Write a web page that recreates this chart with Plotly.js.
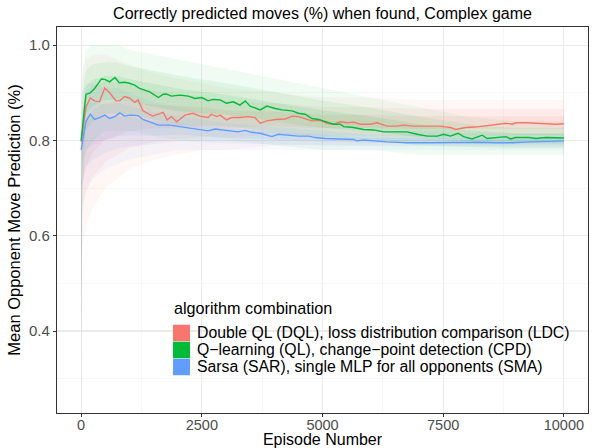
<!DOCTYPE html>
<html>
<head>
<meta charset="utf-8">
<script src="https://cdn.plot.ly/plotly-3.0.1.min.js"></script>
<style>html,body{margin:0;padding:0;background:#fff}#chart{width:596px;height:448px}</style>
</head>
<body>
<div id="chart"></div>
<script>
// ---- data ----
const legendTitle = "algorithm combination";
const seriesNames = [
  "Double QL (DQL), loss distribution comparison (LDC)",
  "Q\u2212learning (QL), change\u2212point detection (CPD)",
  "Sarsa (SAR), single MLP for all opponents (SMA)"
];
const seriesColors = ["#F8766D", "#00BA38", "#619CFF"];

// mean line: Double QL / LDC
const dqlEpisode = [0,100,190,280,380,490,590,720,800,900,1000,1110,1180,1280,1480,1700,1780,1870,1980,2150,2320,2460,2630,2700,2810,2880,3010,3120,3290,3460,3600,3710,3850,4020,4230,4370,4500,4640,4780,4950,5090,5230,5370,5510,5650,5780,6000,6130,6340,6540,6680,6890,7030,7240,7440,7650,7760,7860,7970,8170,8380,8590,8800,8930,9000,9210,9420,9630,9830,10000];
const dqlMean = [0.797,0.870,0.889,0.883,0.881,0.910,0.900,0.883,0.883,0.892,0.889,0.880,0.885,0.862,0.851,0.859,0.843,0.850,0.839,0.853,0.857,0.851,0.848,0.855,0.850,0.853,0.843,0.848,0.848,0.850,0.848,0.836,0.841,0.844,0.845,0.851,0.850,0.845,0.841,0.842,0.836,0.834,0.839,0.837,0.838,0.834,0.834,0.837,0.830,0.830,0.832,0.830,0.830,0.829,0.830,0.827,0.823,0.825,0.827,0.828,0.831,0.834,0.836,0.834,0.837,0.837,0.836,0.836,0.834,0.835];

// mean line: Q-learning / CPD
const qlEpisode = [0,100,180,280,420,490,590,700,790,900,1000,1110,1210,1420,1600,1700,1770,1870,2050,2220,2360,2500,2630,2740,2880,3010,3150,3290,3400,3500,3710,3850,4020,4160,4370,4500,4640,4780,4920,5060,5230,5370,5440,5640,5850,6060,6270,6540,6750,6960,7170,7380,7510,7650,7810,7920,8100,8200,8310,8410,8590,8800,8900,9000,9280,9420,9630,9830,10000];
const qlMean = [0.800,0.897,0.899,0.909,0.929,0.928,0.923,0.932,0.921,0.922,0.920,0.916,0.909,0.902,0.890,0.897,0.897,0.893,0.895,0.893,0.888,0.890,0.883,0.886,0.885,0.878,0.881,0.874,0.883,0.872,0.864,0.872,0.867,0.864,0.862,0.857,0.855,0.846,0.844,0.839,0.834,0.834,0.829,0.827,0.823,0.822,0.818,0.818,0.818,0.813,0.809,0.809,0.813,0.809,0.815,0.808,0.803,0.807,0.811,0.804,0.806,0.808,0.803,0.806,0.806,0.804,0.806,0.806,0.805];

// mean line: Sarsa / SMA
const sarEpisode = [0,100,190,280,380,490,590,700,800,900,1010,1180,1280,1420,1600,1840,2050,2220,2360,2500,2630,2770,2910,3120,3250,3400,3530,3710,3950,4090,4300,4500,4710,4850,5060,5400,5650,5710,5850,6340,6750,7240,7650,8240,8590,8930,9280,9630,10000];
const sarMean = [0.780,0.840,0.855,0.844,0.848,0.853,0.846,0.850,0.858,0.851,0.853,0.852,0.844,0.839,0.832,0.832,0.829,0.825,0.823,0.822,0.820,0.824,0.822,0.820,0.818,0.821,0.817,0.815,0.808,0.813,0.811,0.809,0.809,0.806,0.804,0.803,0.802,0.799,0.801,0.797,0.795,0.795,0.796,0.796,0.795,0.795,0.797,0.798,0.799];

// spread (ribbon) envelope, coarse
const ribbonEpisode = [0,25,100,250,500,750,1000,1500,2000,2500,3000,4000,5000,6000,7000,8000,9000,10000];
const dqlUpper = [0.80,0.93,0.97,0.98,0.98,0.97,0.96,0.94,0.93,0.92,0.91,0.90,0.89,0.89,0.885,0.885,0.885,0.885];
const dqlLower = [0.27,0.58,0.62,0.66,0.70,0.72,0.74,0.76,0.77,0.78,0.78,0.79,0.79,0.79,0.79,0.79,0.79,0.79];
const qlUpper  = [0.80,0.95,0.99,1.00,1.00,1.00,0.99,0.98,0.97,0.96,0.95,0.93,0.91,0.89,0.87,0.85,0.84,0.84];
const qlLower  = [0.30,0.70,0.78,0.80,0.82,0.82,0.82,0.81,0.80,0.80,0.80,0.79,0.78,0.78,0.77,0.77,0.77,0.77];
const sarUpper = [0.80,0.90,0.92,0.92,0.91,0.91,0.90,0.88,0.87,0.86,0.85,0.84,0.83,0.82,0.82,0.815,0.815,0.815];
const sarLower = [0.27,0.66,0.70,0.72,0.74,0.75,0.76,0.77,0.78,0.78,0.78,0.78,0.78,0.78,0.78,0.78,0.78,0.78];

const xTicks = [0, 2500, 5000, 7500, 10000];
const xTickText = ["0", "2500", "5000", "7500", "10000"];
const yTicks = [0.4, 0.6, 0.8, 1.0];
const yTickText = ["0.4", "0.6", "0.8", "1.0"];

// ---- build traces ----
const FONT = "Liberation Sans, Arial, Helvetica, sans-serif";
function rgba(hex, a) {
  const n = parseInt(hex.slice(1), 16);
  return `rgba(${(n >> 16) & 255},${(n >> 8) & 255},${n & 255},${a})`;
}
function bandTraces(lo, hi, color) {
  const out = [];
  const fracs = [0, 0.2, 0.36];
  const alphas = [0.06, 0.08, 0.1];
  fracs.forEach((f, k) => {
    const l = lo.map((v, i) => v + f * (hi[i] - v));
    const h = hi.map((v, i) => v - f * (v - lo[i]));
    out.push({x: ribbonEpisode, y: l, type: "scatter", mode: "lines", line: {width: 0}, showlegend: false, hoverinfo: "skip"});
    out.push({x: ribbonEpisode, y: h, type: "scatter", mode: "lines", line: {width: 0}, fill: "tonexty", fillcolor: rgba(color, alphas[k]), showlegend: false, hoverinfo: "skip"});
  });
  return out;
}
const traces = [];
traces.push(...bandTraces(dqlLower, dqlUpper, seriesColors[0]));
traces.push(...bandTraces(qlLower, qlUpper, seriesColors[1]));
traces.push(...bandTraces(sarLower, sarUpper, seriesColors[2]));
const lineSets = [[dqlEpisode, dqlMean], [qlEpisode, qlMean], [sarEpisode, sarMean]];
lineSets.forEach((s, i) => {
  traces.push({x: s[0], y: s[1], type: "scatter", mode: "lines", line: {color: seriesColors[i], width: 1.4}, showlegend: false, name: seriesNames[i]});
});

// ---- legend (drawn inside the panel, ggplot style) ----
// paper units: panel is 531 px wide, 386 px tall
const legX0 = 0.2185, legX1 = 0.2505, legTextX = 0.2599;
const rowStep = 17 / 386, keyH = 16.5 / 386, firstRowCenter = 0.2073;
const shapes = [{
  type: "rect", xref: "paper", yref: "paper", x0: 0.200, x1: 0.996, y0: 0.088, y1: 0.305,
  fillcolor: "#FFFFFF", line: {width: 0}, layer: "between"
}];
const annotations = [{
  xref: "paper", yref: "paper", x: legX0 - 0.002, y: 0.272, xanchor: "left", yanchor: "middle",
  text: legendTitle, showarrow: false, font: {size: 16.2, color: "#000000", family: FONT}
}];
seriesNames.forEach((n, i) => {
  const c = firstRowCenter - i * rowStep;
  shapes.push({type: "rect", xref: "paper", yref: "paper", x0: legX0, x1: legX1, y0: c - keyH / 2, y1: c + keyH / 2,
    fillcolor: seriesColors[i], line: {width: 0}, layer: "above"});
  annotations.push({xref: "paper", yref: "paper", x: legTextX, y: c, xanchor: "left", yanchor: "middle",
    text: n, showarrow: false, font: {size: 15.8, color: "#000000", family: FONT}});
});

const layout = {
  width: 596, height: 448,
  margin: {l: 57, r: 8, t: 27, b: 35},
  paper_bgcolor: "#FFFFFF", plot_bgcolor: "#FFFFFF",
  font: {family: FONT, color: "#000000"},
  showlegend: false,
  title: {text: "Correctly predicted moves (%) when found, Complex game", font: {size: 16, color: "#000000", family: FONT},
          x: 0.5, xref: "paper", xanchor: "center", y: 0.97, yref: "container", yanchor: "middle"},
  xaxis: {
    range: [-500, 10500], tickvals: xTicks, ticktext: xTickText,
    showgrid: true, gridcolor: "#EBEBEB", gridwidth: 1.1, zeroline: false,
    minor: {dtick: 1250, tick0: 0, showgrid: true, gridcolor: "#F2F2F2", gridwidth: 0.6, ticks: ""},
    showline: true, mirror: true, linecolor: "#333333", linewidth: 1.1,
    ticks: "outside", ticklen: 3, tickcolor: "#333333", tickwidth: 1,
    ticklabelstandoff: -5,
    tickfont: {size: 14.5, color: "#4D4D4D", family: FONT},
    title: {text: "Episode Number", font: {size: 16, color: "#000000", family: FONT}, standoff: 4}
  },
  yaxis: {
    range: [0.228, 1.038], tickvals: yTicks, ticktext: yTickText,
    showgrid: true, gridcolor: "#EBEBEB", gridwidth: 1.1, zeroline: false,
    minor: {dtick: 0.1, tick0: 0, showgrid: true, gridcolor: "#F2F2F2", gridwidth: 0.6, ticks: ""},
    showline: true, mirror: true, linecolor: "#333333", linewidth: 1.1,
    ticks: "outside", ticklen: 3, tickcolor: "#333333", tickwidth: 1,
    tickfont: {size: 15, color: "#4D4D4D", family: FONT},
    title: {text: "Mean Opponent Move Prediction (%)", font: {size: 16.5, color: "#000000", family: FONT}, standoff: 4}
  },
  shapes: shapes,
  annotations: annotations
};

Plotly.newPlot("chart", traces, layout, {staticPlot: true, displayModeBar: false});
</script>
</body>
</html>
